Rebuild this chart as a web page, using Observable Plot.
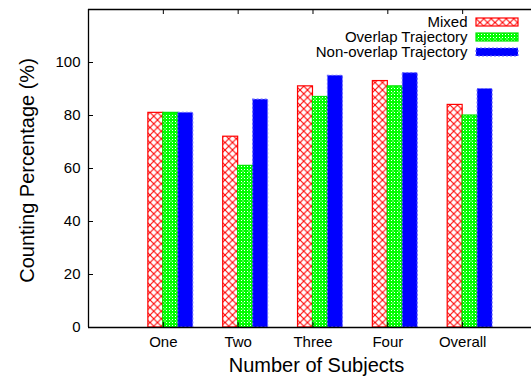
<!DOCTYPE html>
<html><head><meta charset="utf-8">
<script src="https://cdn.jsdelivr.net/npm/d3@7"></script>
<script src="https://cdn.jsdelivr.net/npm/@observablehq/plot@0.6"></script>
<style>body{margin:0;background:#fff;} #chart svg{overflow:visible}</style>
</head><body><div id="chart"></div>
<script>
const categories = ["One", "Two", "Three", "Four", "Overall"];
const seriesNames = ["Mixed", "Overlap Trajectory", "Non-overlap Trajectory"];
const mixed = [81, 72, 91, 93, 84];
const overlap = [81, 61, 87, 91, 80];
const nonOverlap = [81, 86, 95, 96, 90];
const yTicks = [0, 20, 40, 60, 80, 100];
const yLabel = "Counting Percentage (%)";
const xLabel = "Number of Subjects";

const seriesValues = [mixed, overlap, nonOverlap];
const W = 531, H = 380, mL = 88, mR = 0, mT = 9, mB = 53;
const plotW = W - mL - mR, plotH = H - mT - mB;
const barW = 0.2;
const xTicks = categories.map((c, i) => i + 1);
const rows = [];
seriesValues.forEach((vals, s) => vals.forEach((v, i) => rows.push({
  cat: categories[i], series: seriesNames[s], s,
  x1: i + 1 + (s - 1) * barW, x2: i + 1 + s * barW, value: v
})));

const fills = ["url(#pRed)", "url(#pGreen)", "#0000ff"];
const strokes = ["#ff0000", "#00e600", "#6a6aff"];
const dashes = [null, null, "2,2"];

const marks = [];
seriesNames.forEach((n, s) => {
  marks.push(Plot.rectY(rows.filter(d => d.s === s), {
    x1: "x1", x2: "x2", y: "value", fill: fills[s], stroke: strokes[s],
    strokeWidth: 1.2, strokeDasharray: dashes[s]
  }));
});
marks.push(
  Plot.ruleX([0], {stroke: "#000", strokeWidth: 1.3}),
  Plot.ruleY([0, 120], {stroke: "#000", strokeWidth: 1.3}),
  Plot.tickY(yTicks, {y: d => d, insetRight: plotW - 5, stroke: "#000"}),
  Plot.tickX(xTicks, {x: d => d, insetTop: plotH - 5, stroke: "#000"}),
  Plot.tickX(xTicks, {x: d => d, insetBottom: plotH - 5, stroke: "#000"}),
  Plot.axisY({ticks: yTicks, tickSize: 0, tickPadding: 8, fontSize: 15, label: null}),
  Plot.axisX({ticks: xTicks, tickFormat: d => categories[d - 1], tickSize: 0, tickPadding: 9, fontSize: 15, label: null}),
  Plot.text([yLabel], {frameAnchor: "left", textAnchor: "middle", lineAnchor: "middle", dx: -61, dy: 2, rotate: -90, fontSize: 20, fill: "#000"}),
  Plot.text([xLabel], {frameAnchor: "bottom", textAnchor: "middle", lineAnchor: "middle", dx: 6.5, dy: 38, fontSize: 20, fill: "#000"})
);
seriesNames.forEach((n, s) => {
  marks.push(
    Plot.text([n], {frameAnchor: "top-right", dx: -64, dy: 13 + 15 * s, textAnchor: "end", lineAnchor: "middle", fontSize: 15, fill: "#000"}),
    Plot.rect([n], {fill: fills[s], stroke: strokes[s], strokeWidth: 1.2, strokeDasharray: dashes[s],
      insetLeft: 388, insetRight: 13, insetTop: 9 + 15 * s, insetBottom: plotH - (9 + 15 * s) - 8})
  );
});

const chart = Plot.plot({
  width: W, height: H,
  marginLeft: mL, marginRight: mR, marginTop: mT, marginBottom: mB,
  style: {fontFamily: "'Liberation Sans', Arial, sans-serif", fontSize: "15px", color: "#000", background: "#fff"},
  x: {type: "linear", domain: [0, 5.92], axis: null},
  y: {domain: [0, 120], axis: null},
  marks
});

const defs = d3.select(chart).insert("defs", ":first-child");
const pr = defs.append("pattern").attr("id", "pRed").attr("patternUnits", "userSpaceOnUse")
  .attr("width", 7.5).attr("height", 7.5);
pr.append("rect").attr("width", 7.5).attr("height", 7.5).attr("fill", "#fff");
pr.append("path").attr("d", "M0,0L7.5,7.5M7.5,0L0,7.5").attr("stroke", "#ff0000").attr("stroke-width", 1.1);
const pg = defs.append("pattern").attr("id", "pGreen").attr("patternUnits", "userSpaceOnUse")
  .attr("width", 6).attr("height", 6);
pg.append("rect").attr("width", 6).attr("height", 6).attr("fill", "#00ff00");
[[1, 1], [4, 4], [1, 4], [4, 1]].forEach(([x, y]) => pg.append("rect").attr("x", x).attr("y", y).attr("width", 1).attr("height", 1).attr("fill", "#fff"));
[[2.5, 2.5]].forEach(([x, y]) => pg.append("rect").attr("x", x).attr("y", y).attr("width", 1).attr("height", 1).attr("fill", "#fff"));

document.getElementById("chart").appendChild(chart);
</script>
</body></html>
